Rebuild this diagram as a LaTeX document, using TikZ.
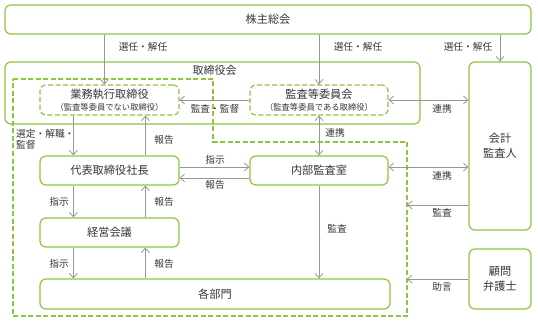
\documentclass[tikz,border=0pt]{standalone}
\usepackage{fontspec}
\setmainfont{Noto Sans CJK JP}
\usetikzlibrary{arrows.meta}
\definecolor{grn}{RGB}{141,198,63}
\definecolor{lgray}{RGB}{150,150,150}
\definecolor{txt}{RGB}{55,55,55}
\tikzset{
  box/.style={draw=grn, line width=1.2pt, rounded corners=6pt, fill=white, text=txt, inner sep=0pt, align=center, font=\fontsize{11.2}{15}\selectfont},
  dbox/.style={box, dash pattern=on 5pt off 2.5pt},
  arr/.style={draw=lgray, line width=0.8pt, -{Straight Barb[length=4.5pt,width=8pt]}},
  barr/.style={draw=lgray, line width=0.8pt, {Straight Barb[length=4.5pt,width=8pt]}-{Straight Barb[length=4.5pt,width=8pt]}},
  lbl/.style={text=txt, inner sep=0pt, font=\fontsize{9.7}{12}\selectfont}
}
\begin{document}
\begin{tikzpicture}[x=1pt,y=-1pt]
\useasboundingbox (0,0) rectangle (538,323);
% outer boxes
\node[box, minimum width=526pt, minimum height=29pt] (sh) at (268,19.5) {株主総会};
\node[box, minimum width=415pt, minimum height=62pt] (board) at (212.5,93) {};
\node[lbl, font=\fontsize{11}{14}\selectfont] (boardlbl) at (214.5,70) {取締役会};
\node[box, minimum width=62pt, minimum height=168pt] (aud) at (500,146) {会計\\監査人};
\node[box, minimum width=62pt, minimum height=60pt] (law) at (500,279) {顧問\\弁護士};
% dashed group
\draw[draw=grn, line width=1.2pt, dash pattern=on 5pt off 2.5pt]
  (13,79) -- (213,79) -- (213,142) -- (407,142) -- (407,316) -- (13,316) -- cycle;
% inner nodes
\node[dbox, minimum width=139pt, minimum height=30pt] (exec) at (109.5,100)
  {業務執行取締役\\[-3.5pt]{\fontsize{8.3}{10}\selectfont （監査等委員でない取締役）}};
\node[dbox, minimum width=138pt, minimum height=30pt] (acom) at (319,100)
  {監査等委員会\\[-3.5pt]{\fontsize{8.3}{10}\selectfont （監査等委員である取締役）}};
\node[box, minimum width=139pt, minimum height=29pt] (pres) at (109.5,170.5) {代表取締役社長};
\node[box, minimum width=138pt, minimum height=29pt] (ias) at (319,170.5) {内部監査室};
\node[box, minimum width=139pt, minimum height=29pt] (mgmt) at (109.5,232.5) {経営会議};
\node[box, minimum width=350pt, minimum height=30pt] (dept) at (215,294) {各部門};
\coordinate (g1) at (407,205);
\coordinate (g2) at (407,278);
% arrows from shareholders
\draw[arr] ([xshift=65pt]exec.north west |- sh.south) -- ([xshift=65pt]exec.north west);
\draw[arr] (acom.north |- sh.south) -- (acom.north);
\draw[arr] (aud.north |- sh.south) -- (aud.north);
\node[lbl] (l1) at (143,47) {選任・解任};
\node[lbl] (l2) at (358,47) {選任・解任};
\node[lbl] (l3) at (468,47) {選任・解任};
% audit committee
\draw[arr] (acom.west) -- (exec.east);
\node[lbl] (l4) at (215,109) {監査・監督};
\draw[barr] (acom.east) -- (acom.east -| aud.west);
\node[lbl] (l5) at (442,109) {連携};
\draw[barr] (acom.south) -- (ias.north);
\node[lbl] (l6) at (335,133) {連携};
% exec <-> pres
\draw[arr] ([xshift=34pt]exec.south west) -- ([xshift=34pt]pres.north west);
\draw[arr] ([xshift=106pt]pres.north west) -- ([xshift=106pt]exec.south west);
\node[lbl, align=left, anchor=north west, font=\fontsize{9.7}{11.5}\selectfont] (l7) at (16,129) {選定・解職・\\監督};
\node[lbl] (l8) at (164,140) {報告};
% pres <-> internal audit
\draw[arr] ([yshift=3.5pt]pres.east) -- ([yshift=3.5pt]ias.west);
\draw[arr] ([yshift=-7.5pt]ias.west) -- ([yshift=-7.5pt]pres.east);
\node[lbl] (l9) at (215,160) {指示};
\node[lbl] (l10) at (215,185) {報告};
% pres <-> mgmt
\draw[arr] ([xshift=34pt]pres.south west) -- ([xshift=34pt]mgmt.north west);
\draw[arr] ([xshift=106pt]mgmt.north west) -- ([xshift=106pt]pres.south west);
\node[lbl] (l11) at (59,202) {指示};
\node[lbl] (l12) at (164,202) {報告};
% mgmt <-> dept
\draw[arr] ([xshift=34pt]mgmt.south west) -- ([xshift=34pt]dept.north west);
\draw[arr] ([xshift=106pt]dept.north west) -- ([xshift=106pt]mgmt.south west);
\node[lbl] (l13) at (59,264) {指示};
\node[lbl] (l14) at (164,264) {報告};
% internal audit -> dept
\draw[arr] (ias.south) -- (ias.south |- dept.north);
\node[lbl] (l15) at (337,229) {監査};
% internal audit <-> auditor
\draw[barr] ([yshift=3.5pt]ias.east) -- ([yshift=3.5pt]ias.east -| aud.west);
\node[lbl] (l16) at (442,176) {連携};
% auditor / lawyer -> group
\draw[arr] (g1 -| aud.west) -- (g1);
\node[lbl] (l17) at (442,213) {監査};
\draw[arr] (law.west) -- (law.west -| g2);
\node[lbl] (l18) at (442,287) {助言};
\end{tikzpicture}
\end{document}
